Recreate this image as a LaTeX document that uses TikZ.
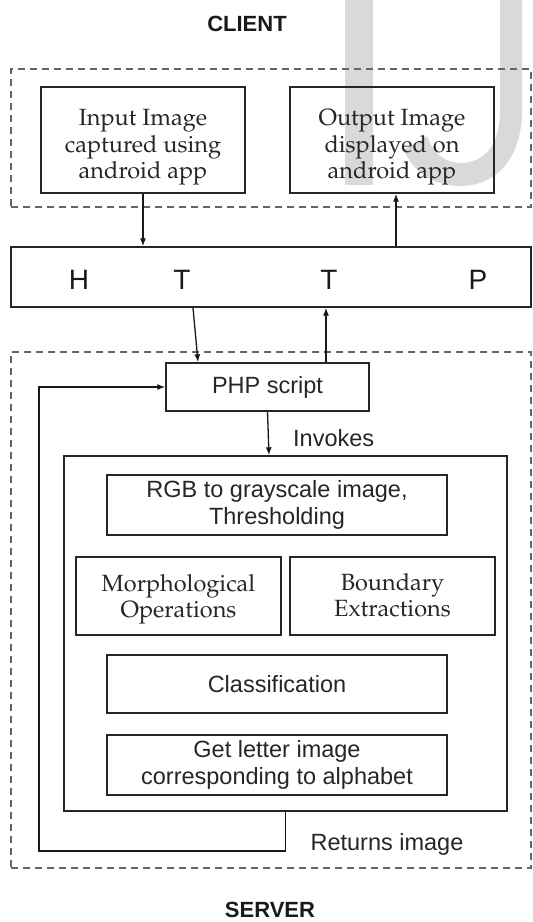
\documentclass[tikz,border=0pt]{standalone}
\usepackage[T1,TU]{fontenc}
\usepackage{fontspec}
\setmainfont{Liberation Sans}
\usetikzlibrary{arrows.meta}
\newcommand\palfont{\fontencoding{T1}\fontfamily{ppl}\selectfont}
% centred lines of text, drawn #1 lower while keeping their size
\newcommand\lowered[2]{\raisebox{#1}[\height][\depth]{\begin{tabular}{@{}c@{}}#2\end{tabular}}}
\tikzset{
  x=1pt, y=-1pt,
  box/.style={draw=black!85, line width=1.4pt, inner sep=0pt, align=center,
              text=black!85, font=\fontsize{23.5}{27}\selectfont},
  serifbox/.style={box, font=\palfont\fontsize{23.5}{26.5}\selectfont},
  group/.style={draw=black!60, dash pattern=on 7pt off 5pt, line width=1.2pt},
  conn/.style={draw=black!90, line width=1.3pt, -{Latex[length=8pt,width=6pt]}},
  lbl/.style={text=black!85, font=\fontsize{23.5}{27}\selectfont, inner sep=0pt},
  title/.style={text=black!90, font=\bfseries\fontsize{22}{26}\selectfont, inner sep=0pt},
  letter/.style={text=black!90, font=\fontsize{28}{30}\selectfont, inner sep=0pt},
  wm/.style={fill=black!15, draw=none}
}
\begin{document}
\begin{tikzpicture}
\useasboundingbox (0,0) rectangle (533,922);

% light watermark letters
\fill[wm] (345,0) rectangle (373,185);
\fill[wm] (500,0) -- (522,0) -- (522,110)
  .. controls (522,160) and (495,186) .. (460,186)
  .. controls (432,186) and (412,170) .. (404,150)
  -- (427,136)
  .. controls (433,153) and (445,163) .. (460,163)
  .. controls (485,163) and (500,145) .. (500,110) -- cycle;

% groups
\node[title] (clientlbl) at (247,24) {CLIENT};
\node[group, minimum width=520pt, minimum height=138pt] (client) at (271,138) {};
\node[group, minimum width=520pt, minimum height=516pt] (server) at (271,610) {};
\node[title] (serverlbl) at (270,910) {SERVER};

% client side
\node[serifbox, minimum width=204pt, minimum height=106pt] (in) at (143,140)
  {\lowered{-7pt}{Input Image\\captured using\\android app}};
\node[serifbox, minimum width=204pt, minimum height=106pt] (out) at (392,140)
  {\lowered{-7pt}{Output Image\\displayed on\\android app}};

% protocol bar
\node[box, minimum width=520pt, minimum height=60pt] (http) at (271,277) {};
\node[letter] (h1) at (79,280) {H};
\node[letter] (t1) at (182,280) {T};
\node[letter] (t2) at (329,280) {T};
\node[letter] (p1) at (478,280) {P};

% server side
\node[box, minimum width=203pt, minimum height=48pt] (php) at (267.5,387) {PHP script};
\node[box, minimum width=443pt, minimum height=355pt] (proc) at (285.5,633.5) {};
\node[box, minimum width=340pt, minimum height=60pt] (rgb) at (277,505)
  {RGB to grayscale image,\\Thresholding};
\node[serifbox, minimum width=205pt, minimum height=78pt] (morph) at (178.5,596)
  {\lowered{-3pt}{Morphological\\Operations}};
\node[serifbox, minimum width=205pt, minimum height=78pt] (bound) at (392.5,596)
  {\lowered{-2pt}{Boundary\\Extractions}};
\node[box, minimum width=340pt, minimum height=58pt] (cls) at (277,684) {Classification};
\node[box, minimum width=340pt, minimum height=60pt] (get) at (277,765)
  {Get letter image\\corresponding to alphabet};

\node[lbl, anchor=west] (invokes) at (293,438) {Invokes};
\node[lbl] (returns) at (387,844) {Returns image};
\coordinate (loop) at (39,851);

% connectors
\draw[conn] (in.south) -- (in.south |- http.north);
\draw[conn] ([xshift=4pt]out.south |- http.north) -- ([xshift=4pt]out.south);
\draw[conn] ([xshift=-74.5pt]php.north |- http.south) -- ([xshift=-69.5pt]php.north);
\draw[conn] ([xshift=58.5pt]php.north) -- ([xshift=58.5pt]php.north |- http.south);
\draw[conn] (php.south) -- ([xshift=1.5pt]php.south |- proc.north);
\draw[conn] (proc.south) |- (loop) |- (php.west);
\end{tikzpicture}
\end{document}
